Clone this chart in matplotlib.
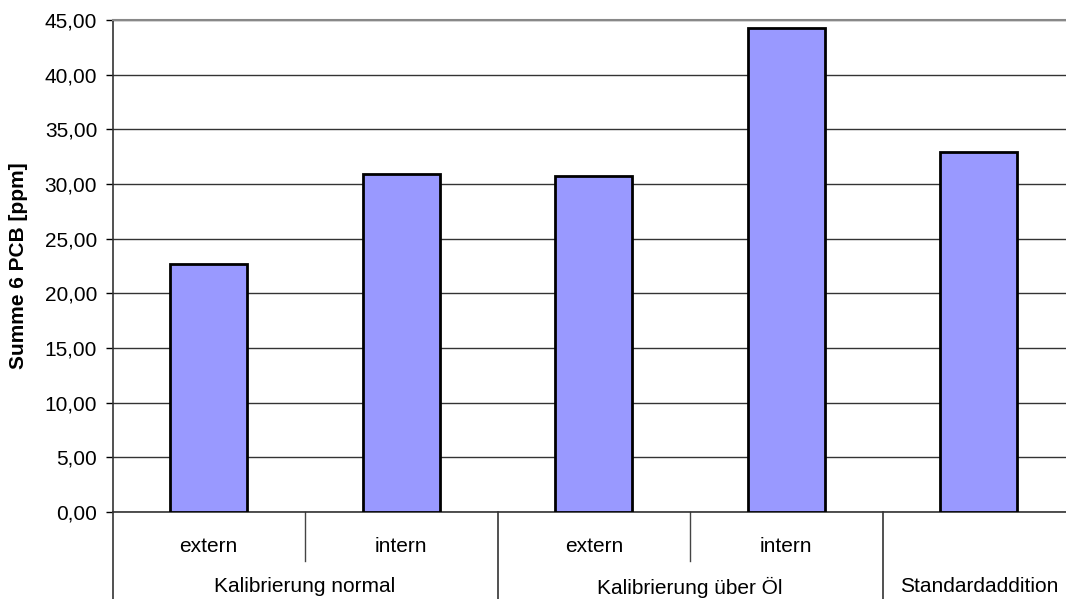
import matplotlib
matplotlib.use("Agg")
import matplotlib.pyplot as plt
from matplotlib.ticker import FuncFormatter

plt.rcParams['font.family'] = ['Liberation Sans', 'DejaVu Sans']

# Data
groups = ["Kalibrierung normal", "Kalibrierung über Öl", "Standardaddition"]
group_sizes = [2, 2, 1]
sub_labels = ["extern", "intern", "extern", "intern", ""]
values = [22.68, 30.90, 30.76, 44.24, 32.93]
y_ticks = [0, 5, 10, 15, 20, 25, 30, 35, 40, 45]

FS = 15
W, H = 1066, 599
fig = plt.figure(figsize=(W / 100, H / 100), dpi=100)
ax = fig.add_axes([112.5 / W, 87 / H, 962.5 / W, 492 / H])

x = list(range(len(values)))
ax.bar(x, values, width=0.4, color="#9999FF", edgecolor="black",
       linewidth=2.0, zorder=3)

ax.set_xlim(-0.5, len(values) - 0.5)
ax.set_ylim(0, 45)
ax.set_yticks(y_ticks)
ax.yaxis.set_major_formatter(FuncFormatter(lambda v, p: f"{v:.2f}".replace(".", ",")))
ax.tick_params(axis="y", direction="out", length=5, width=1, pad=6,
               labelsize=FS, colors="black")
ax.set_xticks([])

ax.grid(axis="y", color="#333333", linewidth=1.0, zorder=0)
ax.set_axisbelow(True)

ax.spines["right"].set_visible(False)
ax.spines["top"].set_color("#888888")
ax.spines["top"].set_linewidth(1.5)
ax.spines["left"].set_color("#333333")
ax.spines["left"].set_linewidth(1.2)
ax.spines["bottom"].set_color("#333333")
ax.spines["bottom"].set_linewidth(1.2)

ax.set_ylabel("Summe 6 PCB [ppm]", fontsize=FS, fontweight="bold", labelpad=12)

# Two-level category axis below the plot
tr = ax.get_xaxis_transform()
y_inner = -49 / 492
y_outer = -87 / 492
y_sub = -34 / 492
y_grp = -75 / 492

start = 0
bounds = [-0.5]
for n in group_sizes:
    for k in range(1, n):
        xb = start + k - 0.5
        ax.plot([xb, xb], [0, y_inner], transform=tr, color="#444444",
                linewidth=1.0, clip_on=False)
    start += n
    bounds.append(start - 0.5)
for xb in bounds[:-1]:
    ax.plot([xb, xb], [0, y_outer], transform=tr, color="#333333",
            linewidth=1.2, clip_on=False)

for xi, lab in zip(x, sub_labels):
    if lab:
        ax.text(xi, y_sub, lab, transform=tr, ha="center", va="center",
                fontsize=FS)

start = 0
for g, n in zip(groups, group_sizes):
    center = start + (n - 1) / 2
    ax.text(center, y_grp, g, transform=tr, ha="center", va="center",
            fontsize=FS)
    start += n

fig.savefig("out.png", dpi=100)
